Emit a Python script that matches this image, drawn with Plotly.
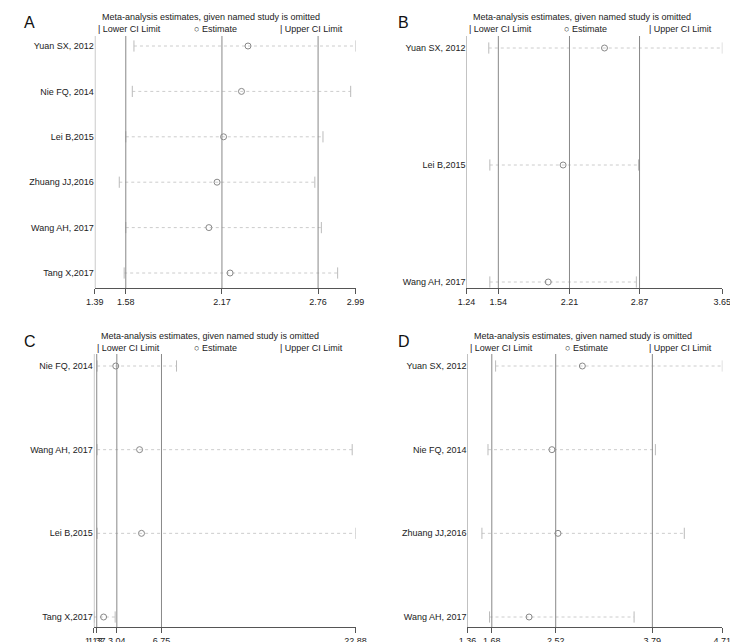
import plotly.graph_objects as go

studies_a = ["Yuan SX, 2012", "Nie FQ, 2014", "Lei B,2015", "Zhuang JJ,2016", "Wang AH, 2017", "Tang X,2017"]
low_a = [1.63, 1.62, 1.58, 1.54, 1.58, 1.57]
est_a = [2.33, 2.29, 2.18, 2.14, 2.09, 2.22]
up_a = [2.99, 2.96, 2.79, 2.74, 2.78, 2.88]
ticks_a = [1.39, 1.58, 2.17, 2.76, 2.99]
lines_a = [1.58, 2.17, 2.76]

studies_b = ["Yuan SX, 2012", "Lei B,2015", "Wang AH, 2017"]
low_b = [1.45, 1.46, 1.46]
est_b = [2.54, 2.15, 2.01]
up_b = [3.65, 2.86, 2.84]
ticks_b = [1.24, 1.54, 2.21, 2.87, 3.65]
lines_b = [1.54, 2.21, 2.87]

studies_c = ["Nie FQ, 2014", "Wang AH, 2017", "Lei B,2015", "Tang X,2017"]
low_c = [1.40, 1.40, 1.40, 1.13]
est_c = [2.95, 4.93, 5.09, 1.94]
up_c = [8.00, 22.60, 22.88, 2.90]
ticks_c = [1.13, 1.37, 3.04, 6.75, 22.88]
lines_c = [1.37, 3.04, 6.75]

studies_d = ["Yuan SX, 2012", "Nie FQ, 2014", "Zhuang JJ,2016", "Wang AH, 2017"]
low_d = [1.73, 1.63, 1.55, 1.65]
est_d = [2.87, 2.47, 2.55, 2.17]
up_d = [4.71, 3.83, 4.21, 3.55]
ticks_d = [1.36, 1.68, 2.52, 3.79, 4.71]
lines_d = [1.68, 2.52, 3.79]

W, H = 738, 642
# label, data..., x px range, (top, first row, last row, axis) px, title top px
panels = [
    ("A", studies_a, low_a, est_a, up_a, ticks_a, lines_a, (80, 348), (28, 38, 265, 280), 2),
    ("B", studies_b, low_b, est_b, up_b, ticks_b, lines_b, (462, 725), (28, 40, 274, 280), 2),
    ("C", studies_c, low_c, est_c, up_c, ticks_c, lines_c, (79, 348), (346, 358, 609, 619), 321),
    ("D", studies_d, low_d, est_d, up_d, ticks_d, lines_d, (463, 725), (346, 358, 609, 619), 321),
]
FONT = "Liberation Sans"
fig = go.Figure()
shapes = []
annos = []
for i, (lab, st, lo, es, up, tk, ln, (x0, x1), (yt, r0, rl, yb), tt) in enumerate(panels):
    n = i + 1
    xa = "x" if n == 1 else f"x{n}"
    ya = "y" if n == 1 else f"y{n}"
    n_rows = len(st)
    ys = [-k for k in range(n_rows)]
    s = (rl - r0) / (n_rows - 1)
    rng_y = [-(yb - r0) / s, (r0 - yt) / s]
    for k in range(n_rows):
        fig.add_trace(go.Scatter(x=[lo[k], up[k]], y=[ys[k], ys[k]], mode="lines",
                                 line=dict(color="#cccccc", width=1, dash="dot"),
                                 xaxis=xa, yaxis=ya, showlegend=False, hoverinfo="skip"))
    fig.add_trace(go.Scatter(x=lo + up, y=ys + ys, mode="markers",
                             marker=dict(symbol="line-ns", size=8, line=dict(color="#bbbbbb", width=1)),
                             xaxis=xa, yaxis=ya, showlegend=False))
    fig.add_trace(go.Scatter(x=es, y=ys, mode="markers",
                             marker=dict(symbol="circle-open", size=6, color="#888888", line=dict(width=1)),
                             xaxis=xa, yaxis=ya, showlegend=False))
    axkey = "xaxis" if n == 1 else f"xaxis{n}"
    aykey = "yaxis" if n == 1 else f"yaxis{n}"
    fig.layout[axkey] = dict(domain=[x0 / W, x1 / W], anchor=ya, range=[tk[0], tk[-1]],
                             tickvals=tk, ticktext=[f"{t:.2f}" for t in tk], ticks="outside",
                             ticklen=5, tickcolor="#555", showgrid=False, zeroline=False,
                             showline=True, linecolor="#555", linewidth=1, tickangle=0,
                             tickfont=dict(size=9, color="#222", family=FONT))
    fig.layout[aykey] = dict(domain=[1 - yb / H, 1 - yt / H], anchor=xa, range=rng_y,
                             tickvals=ys, ticktext=st, ticks="", showgrid=False, zeroline=False,
                             showline=False, tickfont=dict(size=9, color="#222", family=FONT))
    for v in [tk[0]] + ln:
        shapes.append(dict(type="line", xref=xa, yref=f"{ya} domain", x0=v, x1=v, y0=0, y1=1,
                           line=dict(color="#888888", width=1)))
    annos.append(dict(text=lab, x=5 / W if lab in "AC" else 390 / W,
                      y=1 - (tt + 2) / H, xref="paper", yref="paper",
                      xanchor="left", yanchor="top", showarrow=False,
                      font=dict(size=16, family=FONT, color="#111")))
    annos.append(dict(text="Meta-analysis estimates, given named study is omitted",
                      x=(x0 + 5) / W, y=1 - tt / H, xref="paper", yref="paper",
                      xanchor="left", yanchor="top", showarrow=False,
                      font=dict(size=9, family=FONT, color="#222")))
    for txt, fx in [("| Lower CI Limit", 0.0), ("○ Estimate", 0.37), ("| Upper CI Limit", 0.7)]:
        annos.append(dict(text=txt, x=(x0 + 1 + fx * (x1 - x0)) / W, y=1 - (tt + 12) / H,
                          xref="paper", yref="paper", xanchor="left", yanchor="top",
                          showarrow=False, font=dict(size=9, family=FONT, color="#222")))

fig.update_layout(width=W, height=H, margin=dict(l=0, r=0, t=0, b=0),
                  plot_bgcolor="white", paper_bgcolor="white", shapes=shapes, annotations=annos,
                  showlegend=False)
fig.write_html("out.html")
